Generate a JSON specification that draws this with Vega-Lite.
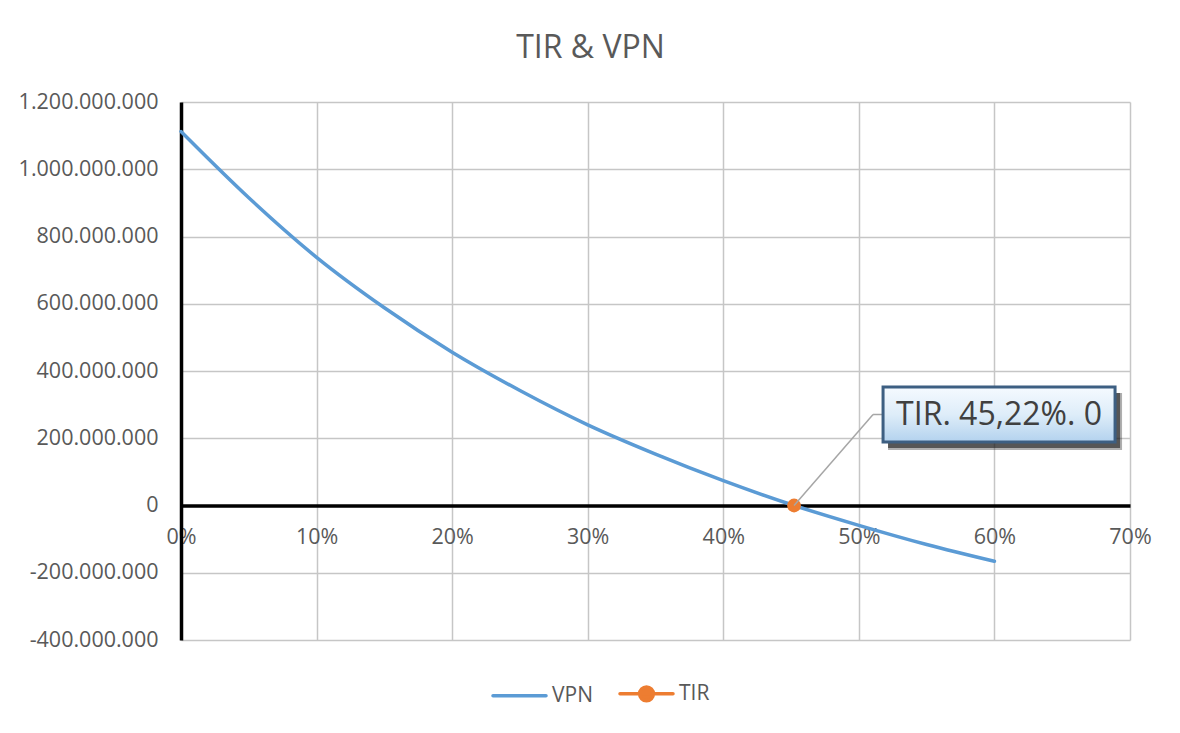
{
  "$schema": "https://vega.github.io/schema/vega-lite/v6.json",
  "width": 949,
  "height": 538,
  "autosize": {"type": "none"},
  "padding": {"left": 181, "top": 102, "right": 50, "bottom": 93},
  "background": "white",
  "title": {
    "text": "TIR & VPN",
    "fontSize": 32,
    "font": "Open Sans",
    "fontWeight": "normal",
    "color": "#595959",
    "anchor": "middle",
    "dx": -65,
    "offset": 26
  },
  "config": {
    "locale": {"number": {"decimal": ",", "thousands": ".", "grouping": [3], "currency": ["$", ""], "minus": "-"}},
    "view": {"stroke": null},
    "font": "Open Sans",
    "axis": {
      "labelFont": "Open Sans",
      "labelFontSize": 21.5,
      "labelColor": "#595959",
      "gridColor": "#c6c6c6",
      "gridWidth": 1.5,
      "ticks": false,
      "title": null
    }
  },
  "datasets": {
    "vpn": [
      {"serie": "VPN", "tasa": 0.00, "vpn": 1112000000},
      {"serie": "VPN", "tasa": 0.05, "vpn": 915000000},
      {"serie": "VPN", "tasa": 0.10, "vpn": 738000000},
      {"serie": "VPN", "tasa": 0.15, "vpn": 588000000},
      {"serie": "VPN", "tasa": 0.20, "vpn": 456000000},
      {"serie": "VPN", "tasa": 0.25, "vpn": 342000000},
      {"serie": "VPN", "tasa": 0.30, "vpn": 240000000},
      {"serie": "VPN", "tasa": 0.35, "vpn": 153000000},
      {"serie": "VPN", "tasa": 0.40, "vpn": 74000000},
      {"serie": "VPN", "tasa": 0.45, "vpn": 3000000},
      {"serie": "VPN", "tasa": 0.50, "vpn": -59000000},
      {"serie": "VPN", "tasa": 0.55, "vpn": -116000000},
      {"serie": "VPN", "tasa": 0.60, "vpn": -166000000}
    ],
    "tir": [
      {"serie": "TIR", "tasa": 0.4522, "vpn": 0, "etiqueta": "TIR. 45,22%. 0"}
    ]
  },
  "encoding": {
    "x": {
      "field": "tasa",
      "type": "quantitative",
      "scale": {"domain": [0, 0.7], "nice": false, "zero": false},
      "axis": {
        "values": [0, 0.1, 0.2, 0.3, 0.4, 0.5, 0.6, 0.7],
        "format": ".0%",
        "offset": -134.5,
        "domainColor": "#000000",
        "domainWidth": 3.5,
        "labelPadding": 21,
        "labelFlush": false
      }
    },
    "y": {
      "field": "vpn",
      "type": "quantitative",
      "scale": {"domain": [-400000000, 1200000000], "nice": false, "zero": false},
      "axis": {
        "values": [-400000000, -200000000, 0, 200000000, 400000000, 600000000, 800000000, 1000000000, 1200000000],
        "format": ",d",
        "domainColor": "#000000",
        "domainWidth": 3.5,
        "labelPadding": 23,
        "labelFlush": false
      }
    }
  },
  "layer": [
    {
      "data": {"name": "vpn"},
      "mark": {"type": "line", "interpolate": "monotone", "strokeWidth": 3.5, "strokeCap": "round"},
      "encoding": {
        "color": {
          "field": "serie",
          "type": "nominal",
          "scale": {"domain": ["VPN", "TIR"], "range": ["#5B9BD5", "#ED7D31"]},
          "legend": {
            "title": null,
            "orient": "none",
            "direction": "horizontal",
            "legendX": 310,
            "legendY": 563,
            "symbolSize": 2809,
            "symbolStrokeWidth": 3.5,
            "labelFontSize": 21,
            "labelFont": "Open Sans",
            "labelColor": "#595959",
            "labelOffset": 4,
            "columnPadding": 20,
            "encode": {
              "symbols": {
                "update": {
                  "shape": {"signal": "datum.value === 'TIR' ? 'M-1,0H1M0.26,0A0.26,0.26,0,1,1,-0.26,0A0.26,0.26,0,1,1,0.26,0' : 'M-1,0H1'"},
                  "fill": {"signal": "datum.value === 'TIR' ? '#ED7D31' : 'transparent'"},
                  "strokeWidth": {"value": 3.5},
                  "strokeCap": {"value": "round"},
                  "opacity": {"value": 1}
                }
              }
            }
          }
        }
      }
    },
    {
      "data": {"name": "tir"},
      "mark": {"type": "point", "filled": true, "size": 190, "opacity": 1, "color": "#ED7D31"}
    },
    {
      "data": {"name": "tir"},
      "mark": {"type": "rule", "color": "#a6a6a6", "strokeWidth": 1.5, "x2Offset": 79, "y2Offset": -91},
      "encoding": {
        "x2": {"field": "tasa"},
        "y2": {"field": "vpn"}
      }
    },
    {
      "data": {"name": "tir"},
      "mark": {"type": "rule", "color": "#a6a6a6", "strokeWidth": 1.5, "xOffset": 79, "x2Offset": 90, "yOffset": -91, "y2Offset": -91},
      "encoding": {
        "x2": {"field": "tasa"},
        "y2": {"field": "vpn"}
      }
    },
    {
      "data": {"name": "tir"},
      "mark": {"type": "rect", "width": 234, "height": 57, "xOffset": 211, "yOffset": -84, "color": "#1a1a1a", "opacity": 0.35}
    },
    {
      "data": {"name": "tir"},
      "mark": {"type": "rect", "width": 232, "height": 55, "xOffset": 210, "yOffset": -85, "color": "#1a1a1a", "opacity": 0.6}
    },
    {
      "data": {"name": "tir"},
      "mark": {
        "type": "rect",
        "width": 232,
        "height": 55,
        "xOffset": 205,
        "yOffset": -91,
        "opacity": 1,
        "fill": {
          "gradient": "linear",
          "x1": 0, "y1": 0, "x2": 0, "y2": 1,
          "stops": [
            {"offset": 0, "color": "#f5faff"},
            {"offset": 0.5, "color": "#deedf9"},
            {"offset": 1, "color": "#b3d2ee"}
          ]
        },
        "stroke": "#3d5f82",
        "strokeWidth": 3
      }
    },
    {
      "data": {"name": "tir"},
      "mark": {"type": "text", "fontSize": 32, "font": "Open Sans", "color": "#404040", "dx": 205, "dy": -91, "align": "center", "baseline": "middle"},
      "encoding": {
        "text": {"field": "etiqueta", "type": "nominal"}
      }
    }
  ]
}
